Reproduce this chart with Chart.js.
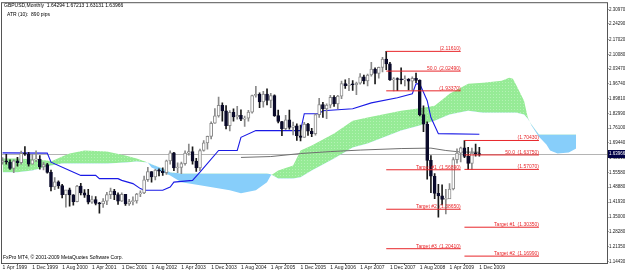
<!DOCTYPE html>
<html>
<head>
<meta charset="utf-8">
<script src="https://cdn.jsdelivr.net/npm/chart.js@4.4.1/dist/chart.umd.min.js"></script>
<style>
  html, body { margin: 0; padding: 0; background: #fff; }
  canvas { display: block; }
</style>
</head>
<body>
<canvas id="chart" width="625" height="271"></canvas>
<script>
// Monthly GBPUSD bars, index 0 = Apr 1999 ... 128 = Dec 2009
const opens = [
  1.6040, 1.6100, 1.6050, 1.5750, 1.6100, 1.6020, 1.6450, 1.6420, 1.5950, 1.6150,
  1.6180, 1.5820, 1.5930, 1.5570, 1.4900, 1.5130, 1.4960, 1.4540, 1.4760, 1.4530,
  1.4220, 1.4930, 1.4620, 1.4520, 1.4190, 1.4310, 1.4140, 1.4110, 1.4240, 1.4540,
  1.4710, 1.4540, 1.4240, 1.4550, 1.4110, 1.4220, 1.4250, 1.4570, 1.4620, 1.5230,
  1.5600, 1.5360, 1.5680, 1.5620, 1.5550, 1.6100, 1.6470, 1.5770, 1.5800, 1.5970,
  1.6460, 1.6530, 1.6090, 1.5770, 1.6580, 1.6930, 1.7230, 1.7840, 1.8180, 1.8670,
  1.8410, 1.7730, 1.8340, 1.8130, 1.8200, 1.8030, 1.8070, 1.8350, 1.9120, 1.9170,
  1.8830, 1.9190, 1.8900, 1.9120, 1.8190, 1.7920, 1.7590, 1.8000, 1.7650, 1.7720,
  1.7260, 1.7190, 1.7800, 1.7470, 1.7360, 1.8240, 1.8700, 1.8500, 1.8680, 1.9040,
  1.8730, 1.9090, 1.9670, 1.9580, 1.9650, 1.9620, 1.9690, 1.9990, 1.9800, 2.0070,
  2.0340, 2.0140, 2.0420, 2.0800, 2.0580, 1.9840, 1.9880, 1.9860, 1.9840, 1.9870,
  1.9780, 1.9920, 1.9820, 1.8240, 1.7800, 1.6120, 1.5390, 1.4600, 1.4480, 1.4320,
  1.4340, 1.4800, 1.6160, 1.6460, 1.6700, 1.6310, 1.5980, 1.6460, 1.64294
];
const highs = [
  1.6250, 1.6400, 1.6150, 1.6150, 1.6270, 1.6550, 1.6765, 1.6500, 1.6400, 1.6570,
  1.6350, 1.6030, 1.5990, 1.5680, 1.5330, 1.5180, 1.5020, 1.4720, 1.4840, 1.4540,
  1.4970, 1.5060, 1.4770, 1.4780, 1.4470, 1.4450, 1.4190, 1.4360, 1.4650, 1.4840,
  1.4780, 1.4620, 1.4620, 1.4550, 1.4320, 1.4440, 1.4600, 1.4720, 1.5400, 1.5800,
  1.5600, 1.5710, 1.5730, 1.5780, 1.6140, 1.6570, 1.6490, 1.6010, 1.6040, 1.6560,
  1.6880, 1.6750, 1.6220, 1.6650, 1.7040, 1.7250, 1.7910, 1.8520, 1.9050, 1.8780,
  1.8650, 1.8420, 1.8510, 1.8620, 1.8460, 1.8170, 1.8440, 1.9140, 1.9550, 1.9250,
  1.9310, 1.9430, 1.9220, 1.9150, 1.8450, 1.7930, 1.8200, 1.8450, 1.7890, 1.7810,
  1.7760, 1.7880, 1.7840, 1.7600, 1.8280, 1.8990, 1.8810, 1.8740, 1.9130, 1.9120,
  1.9130, 1.9790, 1.9850, 1.9910, 1.9810, 1.9740, 2.0130, 2.0070, 2.0110, 2.0660,
  2.0400, 2.0440, 2.0880, 2.1161, 2.0650, 1.9950, 1.9940, 2.0400, 2.0030, 1.9900,
  1.9990, 2.0160, 1.9840, 1.8640, 1.7900, 1.6340, 1.5510, 1.5020, 1.4990, 1.4780,
  1.5050, 1.6250, 1.6660, 1.6740, 1.7043, 1.6730, 1.6690, 1.6880, 1.67213
];
const lows = [
  1.5950, 1.5950, 1.5700, 1.5550, 1.5850, 1.5950, 1.6350, 1.5850, 1.5950, 1.6060,
  1.5720, 1.5680, 1.5530, 1.4710, 1.4770, 1.4830, 1.4390, 1.3960, 1.4010, 1.4050,
  1.4200, 1.4530, 1.4410, 1.4110, 1.4130, 1.4060, 1.3686, 1.3950, 1.4080, 1.4350,
  1.4310, 1.4090, 1.4230, 1.4040, 1.4040, 1.4070, 1.4150, 1.4450, 1.4580, 1.5150,
  1.5120, 1.5220, 1.5400, 1.5430, 1.5480, 1.5950, 1.5650, 1.5560, 1.5510, 1.5900,
  1.6360, 1.5950, 1.5610, 1.5650, 1.6550, 1.6640, 1.7110, 1.7830, 1.8120, 1.7930,
  1.7580, 1.7480, 1.7940, 1.8030, 1.7960, 1.7690, 1.7930, 1.8310, 1.9040, 1.8560,
  1.8580, 1.8690, 1.8560, 1.8160, 1.7850, 1.7270, 1.7540, 1.7560, 1.7300, 1.7040,
  1.7020, 1.7180, 1.7280, 1.7220, 1.7290, 1.8110, 1.8110, 1.8050, 1.8550, 1.8620,
  1.8500, 1.8970, 1.9450, 1.9350, 1.9360, 1.9160, 1.9650, 1.9660, 1.9570, 2.0010,
  1.9660, 1.9920, 2.0210, 2.0320, 1.9820, 1.9337, 1.9340, 1.9660, 1.9560, 1.9380,
  1.9370, 1.9720, 1.8180, 1.7450, 1.5250, 1.4630, 1.4350, 1.3503, 1.4060, 1.3650,
  1.4350, 1.4760, 1.5990, 1.6050, 1.6250, 1.5707, 1.5710, 1.6320, 1.63131
];
const closes = [
  1.6100, 1.6050, 1.5750, 1.6100, 1.6020, 1.6450, 1.6420, 1.5950, 1.6150, 1.6180,
  1.5820, 1.5930, 1.5570, 1.4900, 1.5130, 1.4960, 1.4540, 1.4760, 1.4530, 1.4220,
  1.4930, 1.4620, 1.4520, 1.4190, 1.4310, 1.4140, 1.4110, 1.4240, 1.4540, 1.4710,
  1.4540, 1.4240, 1.4550, 1.4110, 1.4220, 1.4250, 1.4570, 1.4620, 1.5230, 1.5600,
  1.5360, 1.5680, 1.5620, 1.5550, 1.6100, 1.6470, 1.5770, 1.5800, 1.5970, 1.6460,
  1.6530, 1.6090, 1.5770, 1.6580, 1.6930, 1.7230, 1.7840, 1.8180, 1.8670, 1.8410,
  1.7730, 1.8340, 1.8130, 1.8200, 1.8030, 1.8070, 1.8350, 1.9120, 1.9170, 1.8830,
  1.9190, 1.8900, 1.9120, 1.8190, 1.7920, 1.7590, 1.8000, 1.7650, 1.7720, 1.7260,
  1.7190, 1.7800, 1.7470, 1.7360, 1.8240, 1.8700, 1.8500, 1.8680, 1.9040, 1.8730,
  1.9090, 1.9670, 1.9580, 1.9650, 1.9620, 1.9690, 1.9990, 1.9800, 2.0070, 2.0340,
  2.0140, 2.0420, 2.0800, 2.0580, 1.9840, 1.9880, 1.9860, 1.9840, 1.9870, 1.9780,
  1.9920, 1.9820, 1.8240, 1.7800, 1.6120, 1.5390, 1.4600, 1.4480, 1.4320, 1.4340,
  1.4800, 1.6160, 1.6460, 1.6700, 1.6310, 1.5980, 1.6460, 1.64294, 1.63966
];

// Date axis: one label every 8 months starting at bar 0
const dateLabels = [
  '1 Apr 1999', '1 Dec 1999', '1 Aug 2000', '1 Apr 2001', '1 Dec 2001', '1 Aug 2002',
  '1 Apr 2003', '1 Dec 2003', '1 Aug 2004', '1 Apr 2005', '1 Dec 2005', '1 Aug 2006',
  '1 Apr 2007', '1 Dec 2007', '1 Aug 2008', '1 Apr 2009', '1 Dec 2009'
];
const dateStep = 8;
const priceTicks = [
  2.30970, 2.24290, 2.17020, 2.10080, 2.03470, 1.96740, 1.89810, 1.82990, 1.76100,
  1.69440, 1.62510, 1.55580, 1.48880, 1.41930, 1.35000, 1.28280, 1.21350, 1.14430
];

// Ichimoku: Kijun-sen and cloud (Senkou spans, shifted 26 bars ahead)
const kijunIdx = [0, 12, 13, 18, 21, 25, 26, 31, 32, 35, 37, 38, 43, 45, 46, 51, 53, 58, 63, 64,
  68, 80, 81, 85, 86, 94, 99, 106, 110, 111, 112, 114, 115, 117, 128];
const kijunVal = [1.647, 1.646, 1.604, 1.566, 1.543, 1.543, 1.528, 1.528, 1.520, 1.505,
  1.482, 1.474, 1.474, 1.489, 1.512, 1.520, 1.558, 1.658, 1.658, 1.719,
  1.750, 1.750, 1.828, 1.828, 1.842, 1.851, 1.878, 1.902, 1.920, 1.966,
  1.966, 1.888, 1.810, 1.736, 1.733];
const cloudIdx = [0, 4, 8, 12, 13, 16, 18, 22, 28, 33, 36, 39, 40, 43, 45, 48, 53, 61, 64, 68,
  71, 72, 74, 78, 80, 83, 89, 94, 98, 107, 112, 116, 120, 125, 129, 134, 136, 137, 138, 140,
  141, 142, 144, 146, 147, 149, 152, 154];
const spanA = [1.621, 1.621, 1.617, 1.612, 1.607, 1.630, 1.644, 1.658, 1.653, 1.635,
  1.621, 1.603, 1.580, 1.557, 1.543, 1.511, 1.497, 1.474, 1.460, 1.474,
  1.511, 1.543, 1.566, 1.589, 1.658, 1.681, 1.736, 1.796, 1.810, 1.842,
  1.853, 1.865, 1.920, 1.966, 1.971, 1.980, 1.994, 1.989, 1.957, 1.888,
  1.810, 1.773, 1.722, 1.686, 1.658, 1.644, 1.649, 1.667];
const spanB = [1.557, 1.557, 1.566, 1.584, 1.589, 1.598, 1.598, 1.598, 1.598, 1.603,
  1.607, 1.603, 1.594, 1.575, 1.557, 1.552, 1.552, 1.552, 1.552, 1.552,
  1.552, 1.548, 1.529, 1.529, 1.534, 1.566, 1.621, 1.672, 1.690, 1.750,
  1.773, 1.796, 1.824, 1.842, 1.833, 1.833, 1.833, 1.833, 1.833, 1.824,
  1.805, 1.778, 1.732, 1.732, 1.732, 1.732, 1.732, 1.732];

// Long moving average (grey)
const maIdx = [64, 72, 80, 88, 96, 107, 115, 119, 123, 128];
const maVal = [1.626, 1.630, 1.644, 1.653, 1.660, 1.667, 1.669, 1.658, 1.651, 1.650];

// Fibonacci objects: anchor bars, levels and targets
const fibAFrom = 103, fibATo = 123;
const fibALevels = [2.11610, 2.02490, 1.93370];
const fibATargets = [1.56890, 1.38650, 1.20410];
const fibBFrom = 124, fibBTo = 144;
const fibBLevels = [1.70430, 1.63750, 1.57070];
const fibBTargets = [1.30350, 1.16990];

const header = 'GBPUSD,Monthly  ' + [opens, highs, lows, closes].map(a => a[a.length - 1].toFixed(5)).join(' ');
const atrText = 'ATR (10):  890 pips';
const copyright = 'FxPro MT4, \u00a9 2001-2009 MetaQuotes Software Corp.';

const FONT = '"Liberation Sans", Arial, sans-serif';
const RED = '#e8262a';

function dotPattern() {
  const c = document.createElement('canvas');
  c.width = 3; c.height = 3;
  const g = c.getContext('2d');
  g.fillStyle = '#96eb96';
  g.fillRect(0, 0, 3, 3);
  g.fillStyle = '#b4f2b4';
  g.fillRect(1, 1, 1, 1);
  return g.createPattern(c, 'repeat');
}

const up = closes.map((c, i) => c >= opens[i]);
const fibLine = (from, to, v) => ({
  type: 'line', data: [{ x: from, y: v }, { x: to, y: v }],
  borderColor: RED, borderWidth: 1, pointRadius: 0, order: 1, fill: false
});

const datasets = [
  {
    type: 'bar', label: 'body', order: 2, grouped: false,
    data: closes.map((c, i) => ({ x: i, y: [opens[i], c] })),
    backgroundColor: up.map(u => u ? '#ffffff' : '#0b0b2b'),
    borderColor: up.map(u => u ? '#8a8a8a' : '#0b0b2b'),
    borderWidth: 1, borderSkipped: false, barThickness: 3, minBarLength: 1
  },
  {
    type: 'bar', label: 'wick', order: 3, grouped: false,
    data: highs.map((h, i) => ({ x: i, y: [lows[i], h] })),
    backgroundColor: up.map(u => u ? '#8a8a8a' : '#1a1a1a'),
    barThickness: 1
  },
  {
    type: 'line', label: 'kijun', order: 4,
    data: kijunIdx.map((x, i) => ({ x, y: kijunVal[i] })),
    borderColor: '#1a1ae6', borderWidth: 1.1, pointRadius: 0, fill: false
  },
  {
    type: 'line', label: 'ma', order: 5,
    data: maIdx.map((x, i) => ({ x, y: maVal[i] })),
    borderColor: '#707070', borderWidth: 1, pointRadius: 0, fill: false
  },
  ...fibALevels.concat(fibATargets).map(v => fibLine(fibAFrom, fibATo, v)),
  ...fibBLevels.concat(fibBTargets).map(v => fibLine(fibBFrom, fibBTo, v)),
  {
    type: 'line', label: 'spanA', order: 8,
    data: cloudIdx.map((x, i) => ({ x, y: spanA[i] })),
    borderWidth: 0, pointRadius: 0,
    fill: { target: '+1', above: dotPattern(), below: '#87cefa' }
  },
  {
    type: 'line', label: 'spanB', order: 9,
    data: cloudIdx.map((x, i) => ({ x, y: spanB[i] })),
    borderWidth: 0, pointRadius: 0, fill: false
  }
];

const overlay = {
  id: 'overlay',
  beforeDatasetsDraw(chart) {
    const { ctx, chartArea: a, scales: { y } } = chart;
    const py = Math.round(y.getPixelForValue(closes[closes.length - 1])) + 0.5;
    ctx.save();
    ctx.strokeStyle = '#b4b4b4';
    ctx.lineWidth = 1;
    ctx.beginPath();
    ctx.moveTo(a.left, py);
    ctx.lineTo(a.right, py);
    ctx.stroke();
    ctx.restore();
  },
  afterDraw(chart) {
    const { ctx, chartArea: a, scales: { x, y } } = chart;
    ctx.save();
    ctx.strokeStyle = '#555';
    ctx.lineWidth = 1;
    ctx.strokeRect(a.left - 0.5, a.top - 0.5, a.right - a.left + 1, a.bottom - a.top + 1);

    ctx.font = '5px ' + FONT;
    ctx.textBaseline = 'bottom';
    const label = (from, to, v, pre) => {
      const xe = x.getPixelForValue(to);
      const yv = y.getPixelForValue(v);
      ctx.fillStyle = RED;
      ctx.textAlign = 'right';
      ctx.fillText('(' + v.toFixed(5) + ')', xe, yv);
      if (pre) ctx.fillText(pre, xe - 24, yv);
    };
    fibALevels.forEach((v, i) => label(fibAFrom, fibATo, v, i === 1 ? '50.0' : ''));
    fibATargets.forEach((v, i) => label(fibAFrom, fibATo, v, 'Target #' + (i + 1)));
    fibBLevels.forEach((v, i) => label(fibBFrom, fibBTo, v, i === 1 ? '50.0' : ''));
    fibBTargets.forEach((v, i) => label(fibBFrom, fibBTo, v, 'Target #' + (i + 1)));

    ctx.fillStyle = '#000';
    ctx.textAlign = 'left';
    ctx.textBaseline = 'middle';
    ctx.font = '5px ' + FONT;
    ctx.fillText(header, 4, 6);
    ctx.fillText(atrText, 7, 15);
    ctx.fillText(copyright, 3, a.bottom - 5);

    const py = Math.round(y.getPixelForValue(closes[closes.length - 1]));
    ctx.fillStyle = '#000046';
    ctx.fillRect(a.right + 1, py - 4, 625 - a.right, 8);
    ctx.fillStyle = '#fff';
    ctx.font = '4.5px ' + FONT;
    ctx.fillText(closes[closes.length - 1].toFixed(5), a.right + 2, py);
    ctx.restore();
  }
};

new Chart(document.getElementById('chart'), {
  type: 'bar',
  data: { datasets },
  options: {
    responsive: false,
    animation: false,
    devicePixelRatio: 1,
    layout: { padding: { left: 2, top: 2, right: 0, bottom: 0 } },
    plugins: { legend: { display: false }, tooltip: { enabled: false } },
    scales: {
      x: {
        type: 'linear', min: -0.15, max: 162.27, offset: false,
        border: { display: false },
        grid: { drawOnChartArea: false, tickLength: 2, color: '#555' },
        afterBuildTicks: ax => { ax.ticks = dateLabels.map((_, i) => ({ value: i * dateStep })); },
        afterFit: ax => { ax.height = 8; },
        ticks: {
          autoSkip: false, maxRotation: 0, align: 'start', padding: 0,
          color: '#222', font: { family: FONT, size: 5 },
          callback: v => dateLabels[v / dateStep]
        }
      },
      y: {
        position: 'right', min: 1.1381, max: 2.3387,
        border: { display: false },
        grid: { drawOnChartArea: false, tickLength: 1.5, color: '#555' },
        afterBuildTicks: ax => { ax.ticks = priceTicks.map(v => ({ value: v })); },
        afterFit: ax => { ax.width = 18; },
        ticks: {
          padding: 0.5, color: '#222', font: { family: FONT, size: 4.5 },
          callback: v => v.toFixed(5)
        }
      }
    }
  },
  plugins: [overlay]
});
</script>
</body>
</html>
